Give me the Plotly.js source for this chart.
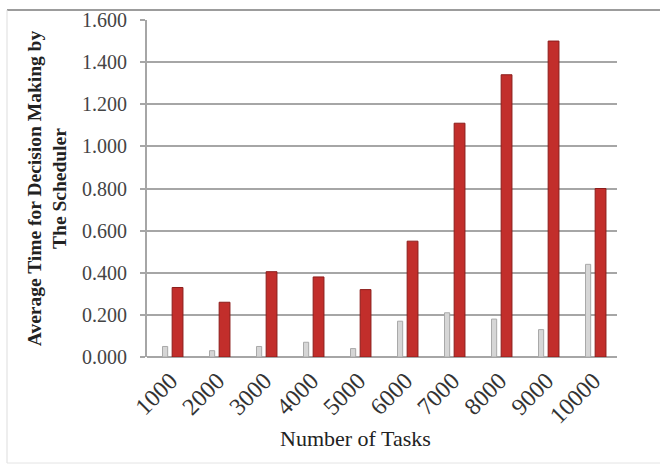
<!DOCTYPE html>
<html>
<head>
<meta charset="utf-8">
<script src="https://cdn.plot.ly/plotly-3.0.1.min.js"></script>
<style>
  html, body { margin: 0; padding: 0; background: #ffffff; }
  #chart { width: 660px; height: 466px; }
</style>
</head>
<body>
<div id="chart"></div>
<script>
// Number of tasks submitted to the scheduler
const tasks = ['1000', '2000', '3000', '4000', '5000', '6000', '7000', '8000', '9000', '10000'];
// Average decision time, light series
const greyTimes = [0.05, 0.03, 0.05, 0.07, 0.04, 0.17, 0.21, 0.18, 0.13, 0.44];
// Average decision time, red series
const redTimes = [0.33, 0.26, 0.405, 0.38, 0.32, 0.55, 1.11, 1.34, 1.50, 0.80];
// Y axis ticks
const yTicks = [0, 0.2, 0.4, 0.6, 0.8, 1.0, 1.2, 1.4, 1.6];

const serif = 'Liberation Serif, Times New Roman, serif';

const traces = [
  {
    type: 'bar',
    x: tasks,
    y: greyTimes,
    width: 0.11,
    offset: -0.17,
    marker: { color: '#d6d6d6', line: { color: '#a9a9a9', width: 1 } },
    hoverinfo: 'x+y'
  },
  {
    type: 'bar',
    x: tasks,
    y: redTimes,
    width: 0.23,
    offset: 0.035,
    marker: { color: '#c22e2b', line: { color: '#8c1d1b', width: 1 } },
    hoverinfo: 'x+y'
  }
];

const layout = {
  width: 660,
  height: 466,
  margin: { l: 147, r: 43, t: 20, b: 109 },
  paper_bgcolor: '#ffffff',
  plot_bgcolor: '#ffffff',
  showlegend: false,
  barmode: 'overlay',
  font: { family: serif, color: '#222222' },
  xaxis: {
    type: 'category',
    tickangle: -45,
    tickfont: { family: serif, size: 24, color: '#333333' },
    ticklabelstandoff: 4,
    showgrid: false,
    showline: false,
    ticks: '',
    ticklen: 0,
    fixedrange: true
  },
  yaxis: {
    range: [0, 1.6],
    tickvals: yTicks,
    tickformat: '.3f',
    tickfont: { family: serif, size: 20, color: '#444444' },
    ticklabelstandoff: 9,
    showgrid: true,
    gridcolor: '#a6a6a6',
    gridwidth: 2,
    zeroline: true,
    zerolinecolor: '#a6a6a6',
    zerolinewidth: 2,
    showline: true,
    linecolor: '#a6a6a6',
    linewidth: 2,
    ticks: 'outside',
    ticklen: 5,
    tickcolor: '#a6a6a6',
    tickwidth: 2,
    title: {
      text: '<b>Average Time for Decision Making by<br>The Scheduler</b>',
      font: { family: serif, size: 19.5, color: '#222222' },
      standoff: 10
    },
    fixedrange: true
  },
  annotations: [
    // x axis title, set slightly left of the plot centre
    { text: 'Number of Tasks', xref: 'paper', yref: 'paper',
      x: 0.443, y: -81 / 337, xanchor: 'center', yanchor: 'middle',
      showarrow: false, font: { family: serif, size: 22, color: '#222222' } }
  ],
  shapes: [
    // outer chart frame
    { type: 'line', xref: 'paper', yref: 'paper',
      x0: -140 / 470, x1: 1 + 43 / 470, y0: 1 + 10 / 337, y1: 1 + 10 / 337,
      line: { color: '#9c9c9c', width: 2 } },
    { type: 'line', xref: 'paper', yref: 'paper',
      x0: -140 / 470, x1: -140 / 470, y0: 1 + 10 / 337, y1: -106 / 337,
      line: { color: '#dddddd', width: 1 } },
    { type: 'line', xref: 'paper', yref: 'paper',
      x0: -140 / 470, x1: 1 + 43 / 470, y0: -106 / 337, y1: -106 / 337,
      line: { color: '#e4e4e4', width: 1 } }
  ]
};

Plotly.newPlot('chart', traces, layout, { displayModeBar: false, staticPlot: true });
</script>
</body>
</html>
